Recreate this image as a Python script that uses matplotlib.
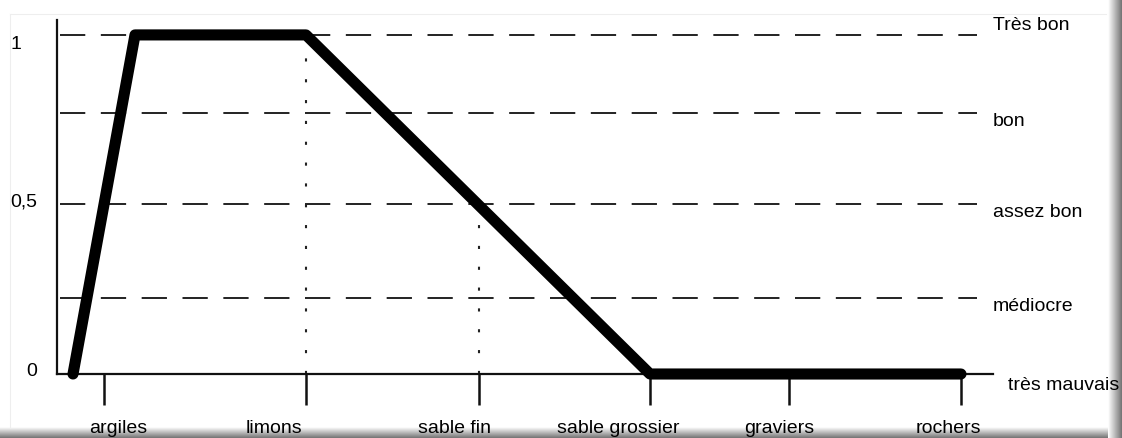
import numpy as np
import matplotlib
matplotlib.use("Agg")
import matplotlib.pyplot as plt
import matplotlib.transforms as mtransforms

plt.rcParams['font.family'] = ['Liberation Sans', 'DejaVu Sans']

# données (axe x : échelle granulométrique schématique)
categories = ['argiles', 'limons', 'sable fin', 'sable grossier', 'graviers', 'rochers']
pos_categories = [1.04, 3.06, 4.79, 6.50, 7.89, 9.61]

courbe_x = [0.73, 1.35, 3.06, 6.50, 9.61]
courbe_y = [0.0, 1.0, 1.0, 0.0, 0.0]

niveaux = ['Très bon', 'bon', 'assez bon', 'médiocre', 'très mauvais']
niveaux_y = [1.0, 0.77, 0.5, 0.225, 0.0]

yticks = [0, 0.5, 1]
yticklabels = ['0', '0,5', '1']

# repères pointillés verticaux (limons à 1, sable fin à 0,5)
repere_x = [3.06, 4.79]
repere_y = [1.0, 0.5]

fig = plt.figure(figsize=(11.22, 4.38), dpi=100)
ax = fig.add_axes([57 / 1122, 1 - 374 / 438, 936 / 1122, 354 / 438])
ax.set_xlim(0.57, 9.93)
ax.set_ylim(0, 1.044)

for s in ['top', 'right']:
    ax.spines[s].set_visible(False)
for s in ['left', 'bottom']:
    ax.spines[s].set_linewidth(1.6)
    ax.spines[s].set_color('#111111')

# lignes de niveau en tirets
for y in niveaux_y[:-1]:
    ax.plot([0.60, 9.77], [y, y], color='#222222', lw=1.4,
            linestyle=(0, (13, 8)), zorder=1)

for x, y in zip(repere_x, repere_y):
    ax.plot([x, x], [0, y], color='#222222', lw=1.5,
            linestyle=(0, (1.5, 8.5)), zorder=1)

ax.plot(courbe_x, courbe_y, color='black', lw=8, solid_joinstyle='round',
        solid_capstyle='round', clip_on=False, zorder=3)

# libellés des niveaux à droite
for i, (txt, y) in enumerate(zip(niveaux, niveaux_y)):
    if i == 0:
        ax.annotate(txt, (9.93, y), xytext=(0, 1), textcoords='offset points',
                    ha='left', va='bottom', fontsize=14, annotation_clip=False)
    elif i == len(niveaux) - 1:
        ax.annotate(txt, (10.08, y), xytext=(0, -2), textcoords='offset points',
                    ha='left', va='top', fontsize=14, annotation_clip=False)
    else:
        ax.annotate(txt, (9.93, y), xytext=(0, 0), textcoords='offset points',
                    ha='left', va='top', fontsize=14, annotation_clip=False)

ax.set_xticks(pos_categories)
ax.set_xticklabels(categories, fontsize=14)
ax.tick_params(axis='x', direction='out', length=22, width=1.8, pad=11,
               color='#111111')
decal_x = [14, -32, -25, -32, -10, -13]
for lab, dx in zip(ax.get_xticklabels(), decal_x):
    lab.set_transform(lab.get_transform() +
                      mtransforms.ScaledTranslation(dx / 100, 0, fig.dpi_scale_trans))

ax.set_yticks(yticks)
ax.set_yticklabels(yticklabels, fontsize=14)
ax.tick_params(axis='y', length=0, pad=14)
decal_y = [(0, 4), (0, 4), (-16, -8)]
for lab, (dx, dy) in zip(ax.get_yticklabels(), decal_y):
    lab.set_transform(lab.get_transform() +
                      mtransforms.ScaledTranslation(dx / 100, dy / 100, fig.dpi_scale_trans))

# cadre / ombre de la capture
fig.add_artist(plt.Line2D([10 / 1122, 1106 / 1122], [1 - 14 / 438] * 2,
                          color='#eeeeee', lw=0.8))
fig.add_artist(plt.Line2D([10 / 1122] * 2, [11 / 438, 1 - 14 / 438],
                          color='#eeeeee', lw=0.8))

alpha = np.linspace(0.0, 0.55, 50)
ombre_r = np.zeros((1, 50, 4))
ombre_r[..., 3] = alpha
axr = fig.add_axes([1108 / 1122, 0, 14 / 1122, 1])
axr.imshow(ombre_r, aspect='auto')
axr.axis('off')
ombre_b = np.zeros((50, 1, 4))
ombre_b[:, 0, 3] = alpha
axb = fig.add_axes([0, 0, 1108 / 1122, 11 / 438])
axb.imshow(ombre_b, aspect='auto')
axb.axis('off')

fig.savefig('out.png', dpi=100)
